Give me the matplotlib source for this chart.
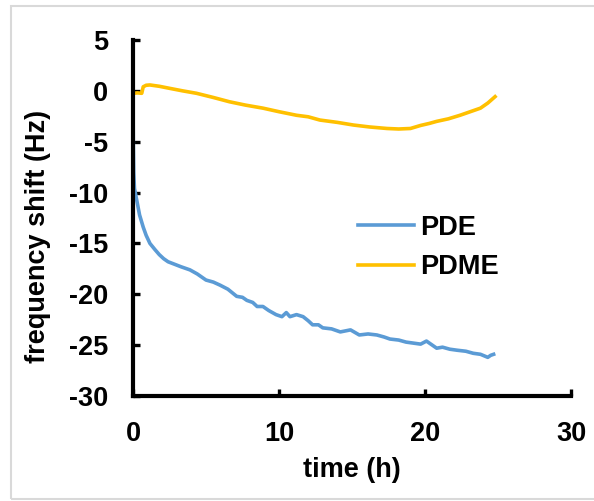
import matplotlib
matplotlib.use("Agg")
import matplotlib.pyplot as plt
from matplotlib.patches import Rectangle

plt.rcParams['font.family'] = ['Liberation Sans', 'DejaVu Sans']
plt.rcParams['font.weight'] = 'bold'
plt.rcParams['axes.unicode_minus'] = False

# PDE series (time in h, frequency shift in Hz)
pde_t = [0.0, 0.02, 0.05, 0.1, 0.25, 0.45, 0.7, 0.9, 1.16, 1.5, 1.8, 2.1, 2.4, 2.76,
         3.3, 3.9, 4.4, 5.0, 5.5, 5.96, 6.5, 7.1, 7.5, 7.8, 8.2, 8.5, 8.9, 9.3, 9.8,
         10.2, 10.5, 10.75, 11.2, 11.65, 12.0, 12.3, 12.7, 13.0, 13.6, 14.2, 14.9,
         15.5, 16.1, 16.7, 17.2, 17.6, 18.2, 18.7, 19.2, 19.7, 20.1, 20.5, 20.8,
         21.2, 21.7, 22.2, 22.8, 23.3, 23.8, 24.3, 24.5, 24.7]
pde_v = [0.0, -5.0, -8.0, -9.6, -10.7, -12.2, -13.4, -14.2, -15.0, -15.6, -16.1, -16.5,
         -16.8, -17.0, -17.3, -17.6, -18.0, -18.6, -18.8, -19.1, -19.5, -20.2, -20.3,
         -20.6, -20.8, -21.2, -21.2, -21.6, -22.0, -22.2, -21.8, -22.2, -22.0, -22.2,
         -22.6, -23.0, -23.0, -23.3, -23.4, -23.7, -23.5, -24.0, -23.9, -24.0, -24.2,
         -24.4, -24.5, -24.7, -24.8, -24.9, -24.6, -25.0, -25.3, -25.2, -25.4, -25.5,
         -25.6, -25.8, -25.9, -26.2, -26.0, -25.9]

# PDME series
pdme_t = [0.0, 0.3, 0.6, 0.7, 0.9, 1.16, 1.8, 2.5, 3.4, 4.35, 5.5, 6.6, 7.7, 8.9, 10.0,
          11.2, 12.0, 12.8, 14.0, 15.1, 16.2, 17.4, 18.2, 19.0, 19.7, 20.3, 20.8,
          21.6, 22.4, 23.1, 23.8, 24.3, 24.8]
pdme_v = [-0.24, -0.2, -0.24, 0.4, 0.55, 0.58, 0.45, 0.25, 0.0, -0.24, -0.65, -1.07,
          -1.4, -1.7, -2.05, -2.4, -2.55, -2.87, -3.1, -3.36, -3.55, -3.7, -3.75, -3.7,
          -3.4, -3.2, -3.0, -2.75, -2.4, -2.05, -1.7, -1.2, -0.57]

x_ticks = [0, 10, 20, 30]
y_ticks = [5, 0, -5, -10, -15, -20, -25, -30]

W, H = 594, 501
fig = plt.figure(figsize=(W / 100, H / 100), dpi=100)
ax = fig.add_axes([133 / W, 1 - 396 / H, 438 / W, 356 / H])

ax.plot(pde_t, pde_v, color='#5B9BD5', lw=2.6, label='PDE', solid_joinstyle='round')
ax.plot(pdme_t, pdme_v, color='#FFC000', lw=2.6, label='PDME', solid_joinstyle='round')

ax.set_xlim(0, 30)
ax.set_ylim(-30, 5)
ax.set_xticks(x_ticks)
ax.set_yticks(y_ticks)
ax.tick_params(direction='in', length=5, width=2.4, labelsize=19.5, pad=18, color='black')
for s in ['top', 'right']:
    ax.spines[s].set_visible(False)
for s in ['left', 'bottom']:
    ax.spines[s].set_linewidth(3)
    ax.spines[s].set_color('black')
for lab in ax.get_xticklabels() + ax.get_yticklabels():
    lab.set_fontweight('bold')

ax.set_xlabel('time (h)', fontsize=19.5, fontweight='bold')
ax.set_ylabel('frequency shift (Hz)', fontsize=19.5, fontweight='bold', va='center')
ax.xaxis.set_label_coords(0.5, -(470 - 396) / 356)
ax.xaxis.label.set_va('center')
ax.yaxis.set_label_coords((38 - 133) / 438, (396 - 236) / 356)

leg = ax.legend(loc='center left', bbox_to_anchor=((358 - 133) / 438, (396 - 247.5) / 356),
                frameon=False, handlelength=2.05, handletextpad=0.25, labelspacing=0.5,
                borderpad=0, borderaxespad=0, prop={'size': 19.5, 'weight': 'bold'})

fig.patches.append(Rectangle((11 / W, 1 - 499 / H), 1.0, (499 - 6) / H,
                             transform=fig.transFigure, fill=False,
                             edgecolor='#d9d9d9', lw=1.5, clip_on=False))

fig.savefig('out.png', dpi=100)
